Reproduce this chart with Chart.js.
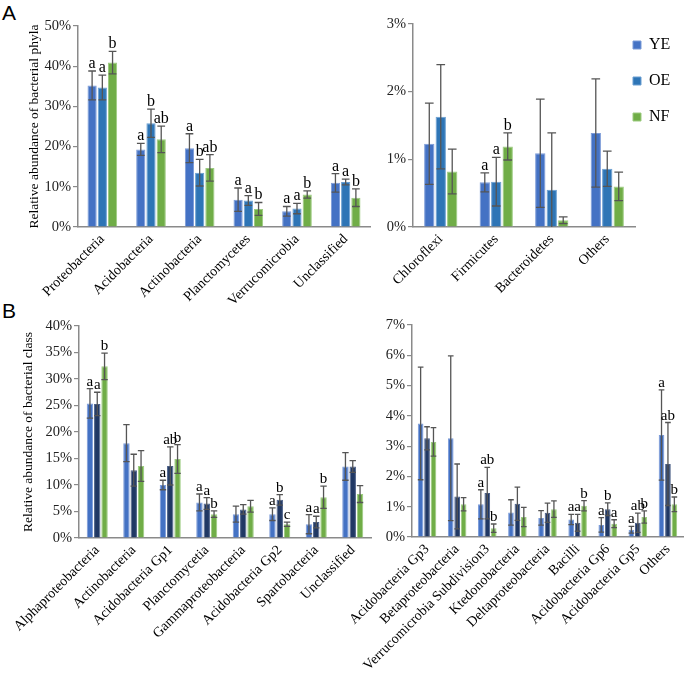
<!DOCTYPE html>
<html>
<head>
<meta charset="utf-8">
<script src="https://cdn.jsdelivr.net/npm/chart.js@4.4.1/dist/chart.umd.min.js"></script>
<style>
    body { margin: 0; background: #fff; width: 685px; height: 675px; position: relative; overflow: hidden; }
    canvas { position: absolute; }
    .panel { position: absolute; font-family: "Liberation Sans", Arial, sans-serif; font-size: 21px; line-height: 1; }
</style>
</head>
<body>
<div class="panel" style="left:2px;top:2px">A</div>
<div class="panel" style="left:2px;top:300px">B</div>
<canvas id="aLeft" width="375" height="330" style="left:0;top:0"></canvas>
<canvas id="aRight" width="345" height="330" style="left:340px;top:0"></canvas>
<canvas id="bLeft" width="375" height="395" style="left:0;top:280px"></canvas>
<canvas id="bRight" width="345" height="395" style="left:340px;top:280px"></canvas>
<script>
// values in %
const groups = ['YE', 'OE', 'NF'];

const phylaMain = ['Proteobacteria', 'Acidobacteria', 'Actinobacteria', 'Planctomycetes', 'Verrucomicrobia', 'Unclassified'];
const phylaMainYE = [35.2, 19.3, 19.6, 6.8, 3.9, 11.0];
const phylaMainOE = [34.7, 25.8, 13.5, 6.6, 4.6, 11.2];
const phylaMainNF = [40.9, 21.8, 14.7, 4.5, 8.1, 7.3];
const phylaMainYEsd = [3.6, 1.5, 3.6, 2.9, 1.2, 2.3];
const phylaMainOEsd = [3.1, 3.5, 3.3, 1.2, 1.3, 0.7];
const phylaMainNFsd = [2.8, 3.3, 3.3, 1.6, 0.9, 2.2];
const phylaMainYEsig = ['a', 'a', 'a', 'a', 'a', 'a'];
const phylaMainOEsig = ['a', 'b', 'b', 'a', 'a', 'a'];
const phylaMainNFsig = ['b', 'ab', 'ab', 'b', 'b', 'b'];

const phylaMinor = ['Chloroflexi', 'Firmicutes', 'Bacteroidetes', 'Others'];
const phylaMinorYE = [1.23, 0.66, 1.09, 1.39];
const phylaMinorOE = [1.63, 0.67, 0.55, 0.86];
const phylaMinorNF = [0.82, 1.19, 0.10, 0.60];
const phylaMinorYEsd = [0.60, 0.14, 0.80, 0.80];
const phylaMinorOEsd = [0.77, 0.36, 0.84, 0.26];
const phylaMinorNFsd = [0.33, 0.20, 0.05, 0.21];
const phylaMinorYEsig = ['', 'a', '', ''];
const phylaMinorOEsig = ['', 'a', '', ''];
const phylaMinorNFsig = ['', 'b', '', ''];

const classMain = ['Alphaproteobacteria', 'Actinobacteria', 'Acidobacteria Gp1', 'Planctomycetia', 'Gammaproteobacteria', 'Acidobacteria Gp2', 'Spartobacteria', 'Unclassified'];
const classMainYE = [25.4, 17.9, 10.0, 6.7, 4.5, 4.5, 2.6, 13.5];
const classMainOE = [25.3, 12.8, 13.6, 6.5, 5.4, 7.2, 3.0, 13.5];
const classMainNF = [32.4, 13.6, 14.9, 4.5, 6.0, 2.6, 7.7, 8.3];
const classMainYEsd = [2.8, 3.5, 0.9, 1.6, 1.5, 1.2, 1.8, 2.6];
const classMainOEsd = [2.2, 3.0, 3.6, 1.1, 0.9, 1.0, 1.1, 1.1];
const classMainNFsd = [2.5, 2.9, 2.7, 0.6, 1.1, 0.4, 2.1, 1.6];
const classMainYEsig = ['a', '', 'a', 'a', '', 'a', 'a', ''];
const classMainOEsig = ['a', '', 'ab', 'a', '', 'b', 'a', ''];
const classMainNFsig = ['b', '', 'b', 'b', '', 'c', 'b', ''];

const classMinor = ['Acidobacteria Gp3', 'Betaproteobacteria', 'Verrucomicrobia Subdivision3', 'Ktedonobacteria', 'Deltaproteobacteria', 'Bacilli', 'Acidobacteria Gp6', 'Acidobacteria Gp5', 'Others'];
const classMinorYE = [3.75, 3.26, 1.08, 0.81, 0.63, 0.58, 0.40, 0.24, 3.37];
const classMinorOE = [3.26, 1.34, 1.45, 1.10, 0.80, 0.47, 0.92, 0.47, 2.41];
const classMinorNF = [3.14, 1.08, 0.29, 0.66, 0.92, 1.03, 0.44, 0.66, 1.08];
const classMinorYEsd = [1.86, 2.72, 0.48, 0.42, 0.24, 0.17, 0.24, 0.11, 1.49];
const classMinorOEsd = [0.38, 1.07, 0.85, 0.55, 0.32, 0.28, 0.21, 0.32, 1.37];
const classMinorNFsd = [0.47, 0.22, 0.14, 0.32, 0.27, 0.17, 0.13, 0.20, 0.24];
const classMinorYEsig = ['', '', 'a', '', '', 'a', 'a', 'a', 'a'];
const classMinorOEsig = ['', '', 'ab', '', '', 'a', 'b', 'ab', 'ab'];
const classMinorNFsig = ['', '', 'b', '', '', 'b', 'a', 'b', 'b'];

const serif = '"Liberation Serif", "Times New Roman", serif';
const colYE = '#4472C4', colOE_A = '#2E75B6', colOE_B = '#203864', colNF = '#70AD47';
const rimYE = '#7b9bd8', rimOE_A = '#6a9fd2', rimOE_B = '#4b5f86', rimNF = '#9ccb80';
const axisGray = '#8a8a8a';

const errorBars = {
    id: 'errorBars',
    afterDatasetsDraw(chart, args, opts) {
        const ctx = chart.ctx;
        const y = chart.scales.y;
        chart.data.datasets.forEach((ds, di) => {
            const meta = chart.getDatasetMeta(di);
            meta.data.forEach((bar, i) => {
                const v = ds.data[i], s = ds.sd[i];
                const top = y.getPixelForValue(v + s);
                const low = Math.max(v - s, 0);
                const bot = y.getPixelForValue(low);
                const half = bar.width * opts.cap;
                ctx.save();
                ctx.strokeStyle = '#555';
                ctx.lineWidth = 1.3;
                ctx.beginPath();
                ctx.moveTo(bar.x, top); ctx.lineTo(bar.x, bot);
                ctx.moveTo(bar.x - half, top); ctx.lineTo(bar.x + half, top);
                if (low > 0) { ctx.moveTo(bar.x - half, bot); ctx.lineTo(bar.x + half, bot); }
                ctx.stroke();
                const t = ds.sig[i];
                if (t) {
                    ctx.fillStyle = '#000';
                    ctx.font = opts.fontSize + 'px ' + serif;
                    ctx.textAlign = 'center';
                    ctx.textBaseline = 'alphabetic';
                    ctx.fillText(t, bar.x, top - 3);
                }
                ctx.restore();
            });
        });
    }
};

// move the legend next to the plot, keep its clip box wide enough for the text
const legendNudge = {
    id: 'legendNudge',
    afterLayout(chart, args, opts) {
        if (!chart.legend || !opts.on) return;
        chart.legend.left += opts.dx;
        chart.legend.top += opts.dy;
        chart.legend.bottom += opts.dy;
    }
};

function makeChart(id, c) {
    const ds = (label, data, sd, sig, color, rim) => ({
        label, data, sd, sig,
        backgroundColor: color,
        borderColor: rim,
        borderWidth: 1,
        categoryPercentage: c.cat,
        barPercentage: c.bar
    });
    return new Chart(document.getElementById(id), {
        type: 'bar',
        data: {
            labels: c.labels,
            datasets: [
                ds(groups[0], c.ye, c.yeSd, c.yeSig, colYE, rimYE),
                ds(groups[1], c.oe, c.oeSd, c.oeSig, c.oeColor, c.oeRim),
                ds(groups[2], c.nf, c.nfSd, c.nfSig, colNF, rimNF)
            ]
        },
        options: {
            responsive: false,
            animation: false,
            layout: { padding: { left: 0, top: c.top, right: c.right, bottom: 0 } },
            plugins: {
                tooltip: { enabled: false },
                legend: c.legend ? {
                    display: true,
                    position: 'right',
                    align: 'start',
                    maxWidth: 50,
                    labels: {
                        boxWidth: 8, boxHeight: 8, padding: 20, color: '#000',
                        font: { family: serif, size: 16 }
                    }
                } : { display: false },
                errorBars: { cap: c.capRatio, fontSize: c.sigSize },
                legendNudge: { on: !!c.legend, dx: -22, dy: -7 }
            },
            scales: {
                x: {
                    grid: { display: false, drawTicks: false },
                    border: { display: true, color: axisGray, width: 1.5 },
                    ticks: {
                        autoSkip: false, minRotation: 45, maxRotation: 45, padding: 4,
                        color: '#000', font: { family: serif, size: 14 }
                    },
                    afterFit: s => { s.height = c.xHeight; }
                },
                y: {
                    min: 0, max: c.max,
                    grid: { drawOnChartArea: false, drawTicks: true, tickLength: 5, color: axisGray, lineWidth: 1.2 },
                    border: { display: true, color: axisGray, width: 1.5 },
                    ticks: {
                        stepSize: c.step, padding: 2, color: '#222',
                        font: { family: serif, size: 14.5 },
                        callback: v => v + '%'
                    },
                    title: c.yTitle ? {
                        display: true, text: c.yTitle, color: '#000',
                        font: { family: serif, size: 13.5 },
                        padding: { top: c.titlePad, bottom: 0 }
                    } : { display: false },
                    afterFit: s => { s.width = c.yWidth; }
                }
            }
        },
        plugins: [errorBars, legendNudge]
    });
}

makeChart('aLeft', {
    labels: phylaMain,
    ye: phylaMainYE, oe: phylaMainOE, nf: phylaMainNF,
    yeSd: phylaMainYEsd, oeSd: phylaMainOEsd, nfSd: phylaMainNFsd,
    yeSig: phylaMainYEsig, oeSig: phylaMainOEsig, nfSig: phylaMainNFsig,
    oeColor: colOE_A, oeRim: rimOE_A,
    max: 50, step: 10, yTitle: 'Relative abundance of bacterial phyla', titlePad: 26,
    top: 26, right: 5, yWidth: 78, xHeight: 103,
    cat: 0.63, bar: 0.9, capRatio: 0.42, sigSize: 16
});

makeChart('aRight', {
    labels: phylaMinor,
    ye: phylaMinorYE, oe: phylaMinorOE, nf: phylaMinorNF,
    yeSd: phylaMinorYEsd, oeSd: phylaMinorOEsd, nfSd: phylaMinorNFsd,
    yeSig: phylaMinorYEsig, oeSig: phylaMinorOEsig, nfSig: phylaMinorNFsig,
    oeColor: colOE_A, oeRim: rimOE_A,
    max: 3, step: 1, yTitle: null,
    top: 24, right: 0, yWidth: 73, xHeight: 103, legend: true,
    cat: 0.62, bar: 0.9, capRatio: 0.42, sigSize: 16
});

makeChart('bLeft', {
    labels: classMain,
    ye: classMainYE, oe: classMainOE, nf: classMainNF,
    yeSd: classMainYEsd, oeSd: classMainOEsd, nfSd: classMainNFsd,
    yeSig: classMainYEsig, oeSig: classMainOEsig, nfSig: classMainNFsig,
    oeColor: colOE_B, oeRim: rimOE_B,
    max: 40, step: 5, yTitle: 'Relative abundance of bacterial class', titlePad: 20,
    top: 46, right: 4, yWidth: 79, xHeight: 137,
    cat: 0.6, bar: 0.88, capRatio: 0.5, sigSize: 15
});

makeChart('bRight', {
    labels: classMinor,
    ye: classMinorYE, oe: classMinorOE, nf: classMinorNF,
    yeSd: classMinorYEsd, oeSd: classMinorOEsd, nfSd: classMinorNFsd,
    yeSig: classMinorYEsig, oeSig: classMinorOEsig, nfSig: classMinorNFsig,
    oeColor: colOE_B, oeRim: rimOE_B,
    max: 7, step: 1, yTitle: null,
    top: 45, right: 2, yWidth: 72, xHeight: 138,
    cat: 0.64, bar: 0.88, capRatio: 0.5, sigSize: 15
});
</script>
</body>
</html>
